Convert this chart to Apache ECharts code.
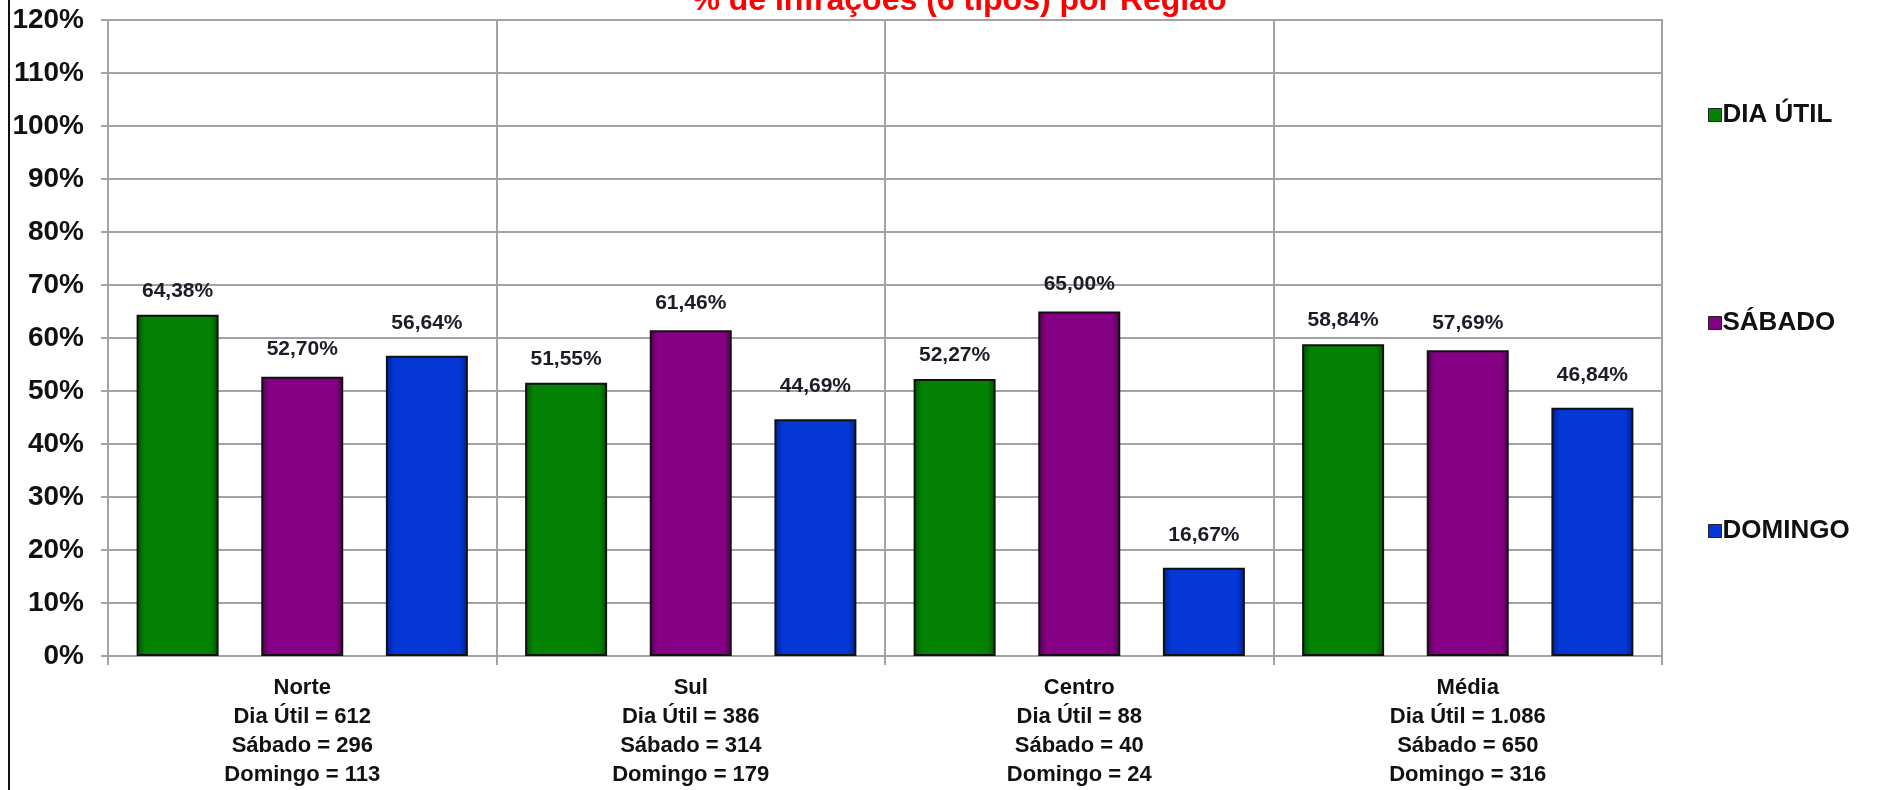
<!DOCTYPE html>
<html>
<head>
<meta charset="utf-8">
<script src="https://cdn.jsdelivr.net/npm/echarts@6/dist/echarts.min.js"></script>
<style>
  html, body { margin: 0; padding: 0; background: #fff; }
  #chart { width: 1881px; height: 790px; }
</style>
</head>
<body>
<div id="chart"></div>
<script>
const regions = ["Norte", "Sul", "Centro", "Média"];
const diaUtilCount = [612, 386, 88, 1086];
const sabadoCount = [296, 314, 40, 650];
const domingoCount = [113, 179, 24, 316];

const diaUtil = [64.38, 51.55, 52.27, 58.84];
const sabado = [52.70, 61.46, 65.00, 57.69];
const domingo = [56.64, 44.69, 16.67, 46.84];

const seriesNames = ["DIA ÚTIL", "SÁBADO", "DOMINGO"];

function thousands(n) {
  return String(n).replace(/\B(?=(\d{3})+(?!\d))/g, ".");
}

function pct(value) {
  return value.toFixed(2).replace(".", ",") + "%";
}

const categoryLabels = regions.map((name, i) =>
  `${name}\nDia Útil = ${thousands(diaUtilCount[i])}\nSábado = ${thousands(sabadoCount[i])}\nDomingo = ${thousands(domingoCount[i])}`
);

function barFill(edge, base) {
  return new echarts.graphic.LinearGradient(0, 0, 1, 0, [
    { offset: 0, color: edge },
    { offset: 0.1, color: base },
    { offset: 0.9, color: base },
    { offset: 1, color: edge },
  ]);
}

function barSeries(name, data, edge, base, labelDistance) {
  return {
    name,
    type: "bar",
    data,
    barWidth: 82,
    barGap: "52%",
    itemStyle: { color: barFill(edge, base), borderColor: "#111", borderWidth: 2 },
    label: {
      show: true,
      position: "top",
      distance: labelDistance,
      formatter: (p) => pct(p.value),
      fontFamily: "Liberation Sans, Arial, sans-serif",
      fontWeight: "bold",
      fontSize: 21,
      color: "#1c1c28",
    },
  };
}

const chart = echarts.init(document.getElementById("chart"));
chart.setOption({
  animation: false,
  textStyle: { fontFamily: "Liberation Sans, Arial, sans-serif" },
  title: {
    text: "% de Infrações (6 tipos) por Região",
    left: 954,
    textAlign: "center",
    top: -20,
    textStyle: { color: "#ff0000", fontSize: 32, fontWeight: "bold", fontFamily: "Liberation Sans, Arial, sans-serif" },
  },
  legend: {
    orient: "vertical",
    left: 1703,
    top: 97,
    itemGap: 182,
    itemWidth: 13,
    itemHeight: 13,
    icon: "rect",
    data: seriesNames,
    itemStyle: { borderColor: "#222", borderWidth: 1 },
    textStyle: { fontSize: 26, fontWeight: "bold", color: "#111", padding: [0, 0, 0, -4] },
  },
  grid: {
    left: 108,
    right: 219,
    top: 20,
    bottom: 134,
    show: true,
    borderColor: "#a3a3a3",
    borderWidth: 2,
  },
  xAxis: {
    type: "category",
    data: categoryLabels,
    axisLine: { lineStyle: { color: "#a3a3a3", width: 2 } },
    axisTick: { show: true, length: 9, lineStyle: { color: "#a3a3a3", width: 2 } },
    splitLine: { show: true, lineStyle: { color: "#a3a3a3", width: 2 } },
    axisLabel: {
      interval: 0,
      margin: 17,
      fontSize: 22,
      lineHeight: 29,
      fontWeight: "bold",
      color: "#111",
    },
  },
  yAxis: {
    type: "value",
    min: 0,
    max: 120,
    interval: 10,
    axisLine: { show: true, lineStyle: { color: "#a3a3a3", width: 2 } },
    axisTick: { show: true, length: 7, lineStyle: { color: "#a3a3a3", width: 2 } },
    splitLine: { lineStyle: { color: "#a3a3a3", width: 2 } },
    axisLabel: {
      formatter: (v) => v + "%",
      fontSize: 28,
      fontWeight: "bold",
      color: "#111",
      margin: 24,
    },
  },
  graphic: [
    { type: "line", shape: { x1: 9, y1: 0, x2: 9, y2: 790 }, style: { stroke: "#111", lineWidth: 2 } },
  ],
  series: [
    barSeries(seriesNames[0], diaUtil, "#014f01", "#038203", 13),
    barSeries(seriesNames[1], sabado, "#520052", "#860086", 17),
    barSeries(seriesNames[2], domingo, "#001f8f", "#0437d6", 22),
  ],
});
</script>
</body>
</html>
